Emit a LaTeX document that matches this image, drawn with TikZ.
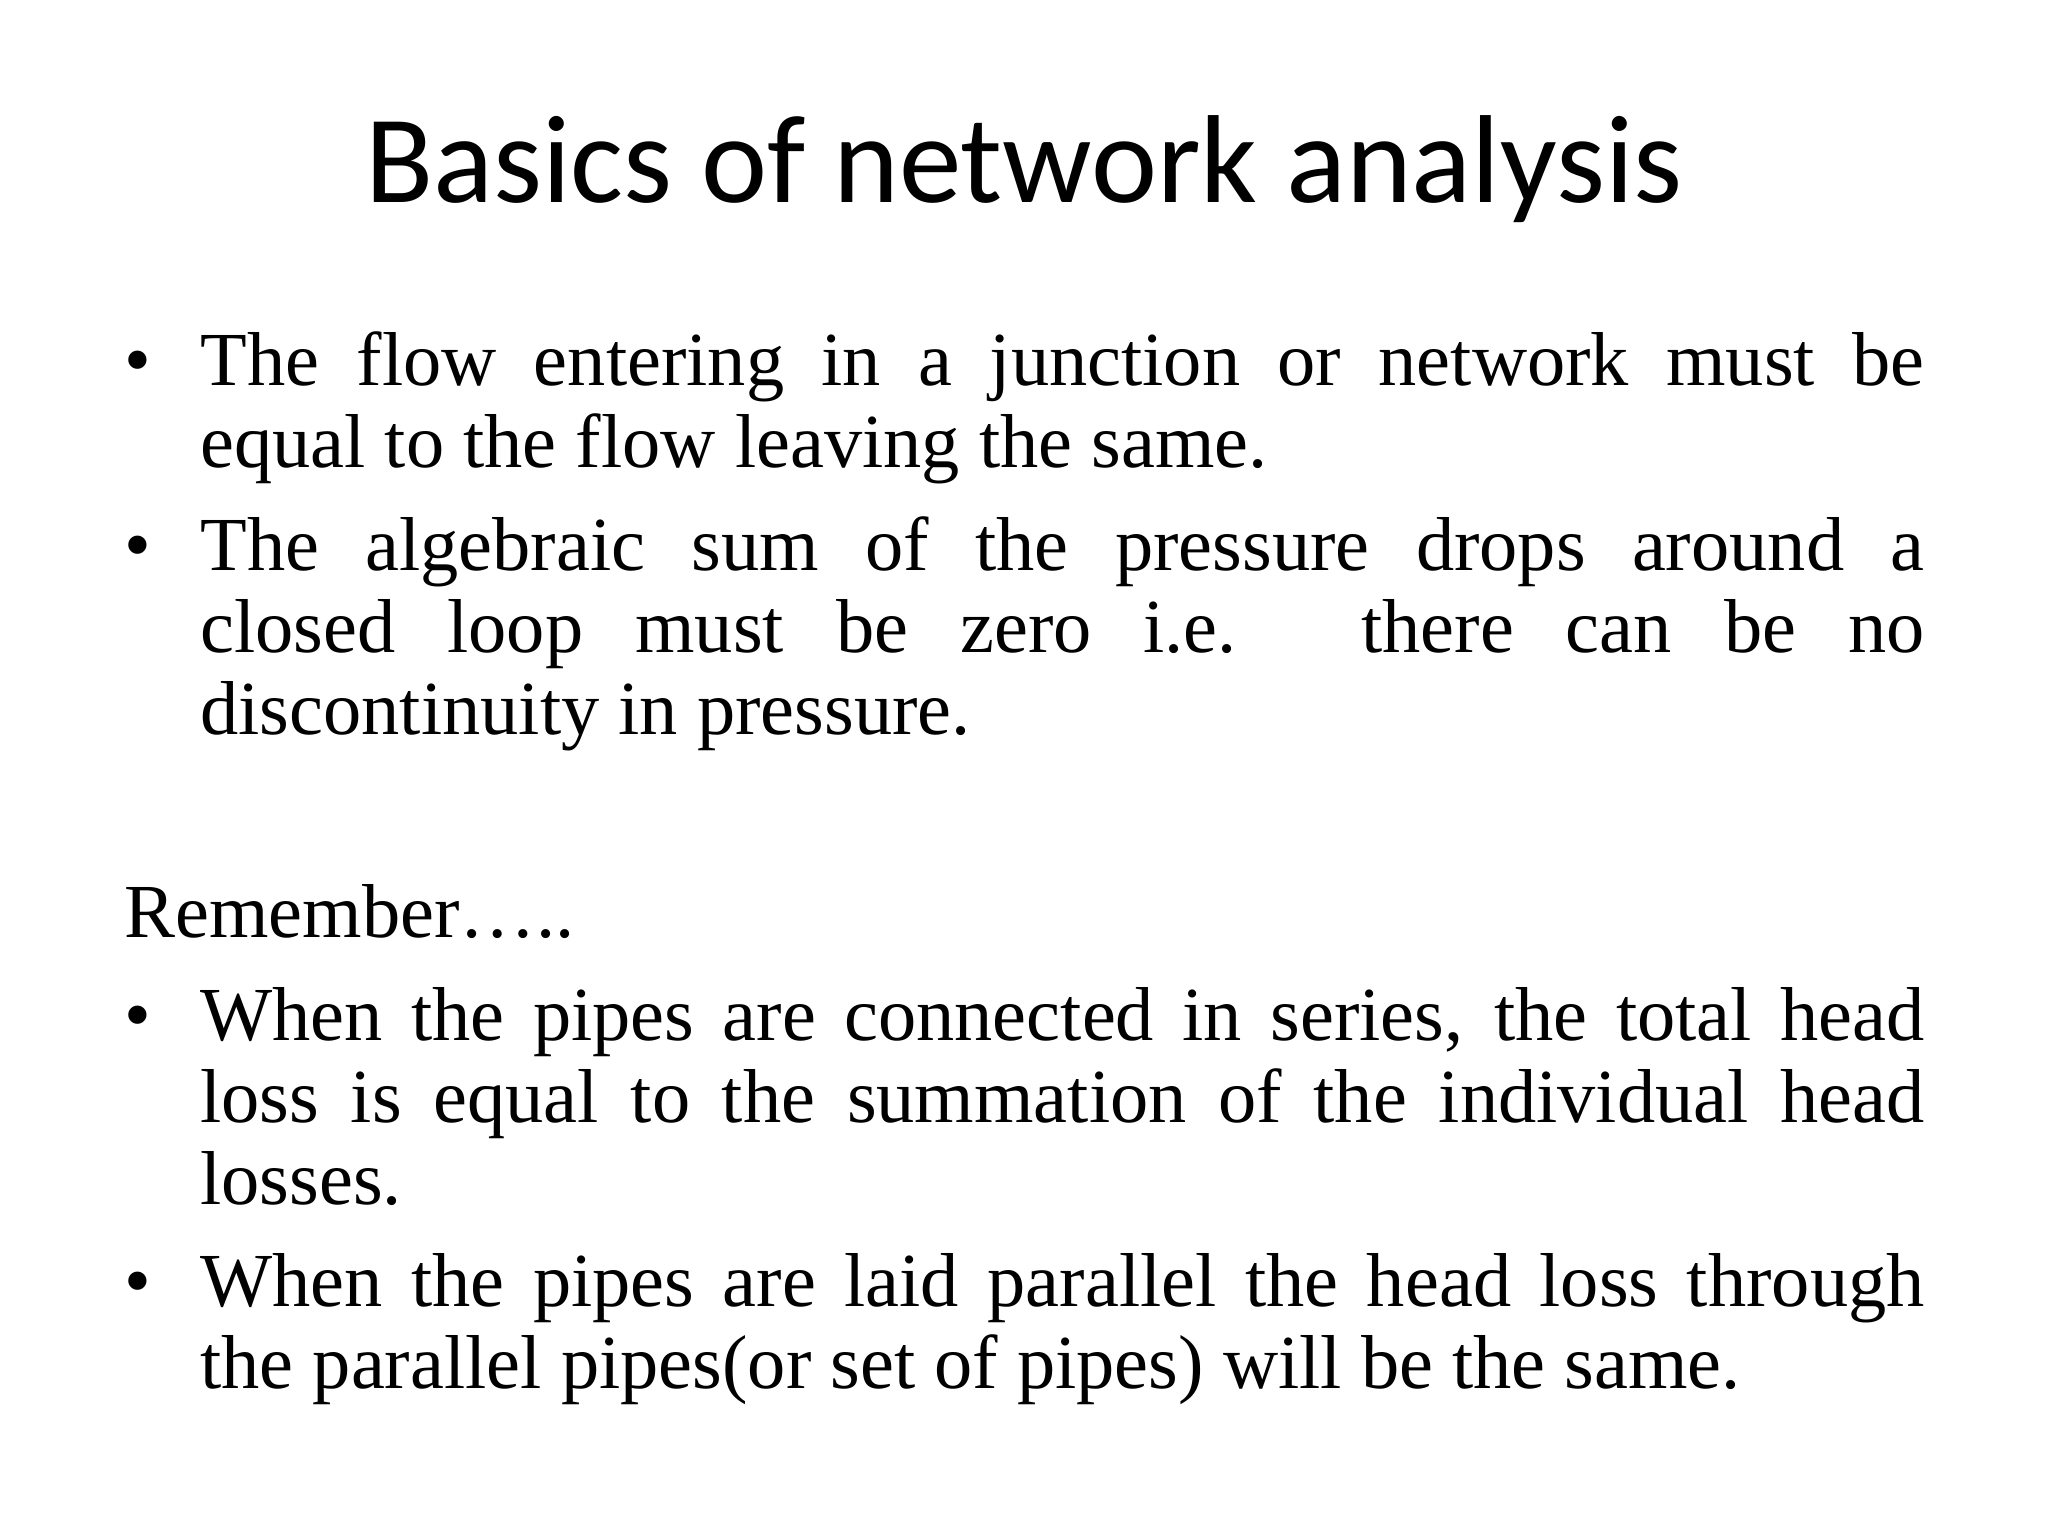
\documentclass[tikz,border=0pt]{standalone}
\usepackage{fontspec}
\setmainfont{Liberation Serif}
\newfontfamily\titlefont{Carlito}
\begin{document}
\begin{tikzpicture}[x=1pt,y=1pt,
  para/.style={anchor=base west,inner sep=0pt,text width=862pt,align=justify,font=\fontsize{38.2}{41}\selectfont},
  bul/.style={anchor=base west,inner sep=0pt,font=\fontsize{38.2}{41}\selectfont}]
\useasboundingbox (0,0) rectangle (1024,-768);
\node[anchor=base,inner sep=0pt,font=\titlefont\fontsize{62.6}{72}\selectfont] (title) at (512,-101) {Basics of network analysis};
\node[bul] (b1) at (62,-192.6) {\textbullet};
\node[para] (p1) at (100,-192.6) {The flow entering in a junction or network must be\linebreak equal to the flow leaving the same.};
\node[bul] (b2) at (62,-285.4) {\textbullet};
\node[para] (p2) at (100,-285.4) {The algebraic sum of the pressure drops around a\linebreak closed loop must be zero i.e. there can be no\linebreak discontinuity in pressure.};
\node[bul] (rem) at (62,-468.9) {Remember…..};
\node[bul] (b3) at (62,-520.4) {\textbullet};
\node[para] (p3) at (100,-520.4) {When the pipes are connected in series, the total head\linebreak loss is equal to the summation of the individual head\linebreak losses.};
\node[bul] (b4) at (62,-653) {\textbullet};
\node[para] (p4) at (100,-653) {When the pipes are laid parallel the head loss through\linebreak the parallel pipes(or set of pipes) will be the same.};
\end{tikzpicture}
\end{document}
